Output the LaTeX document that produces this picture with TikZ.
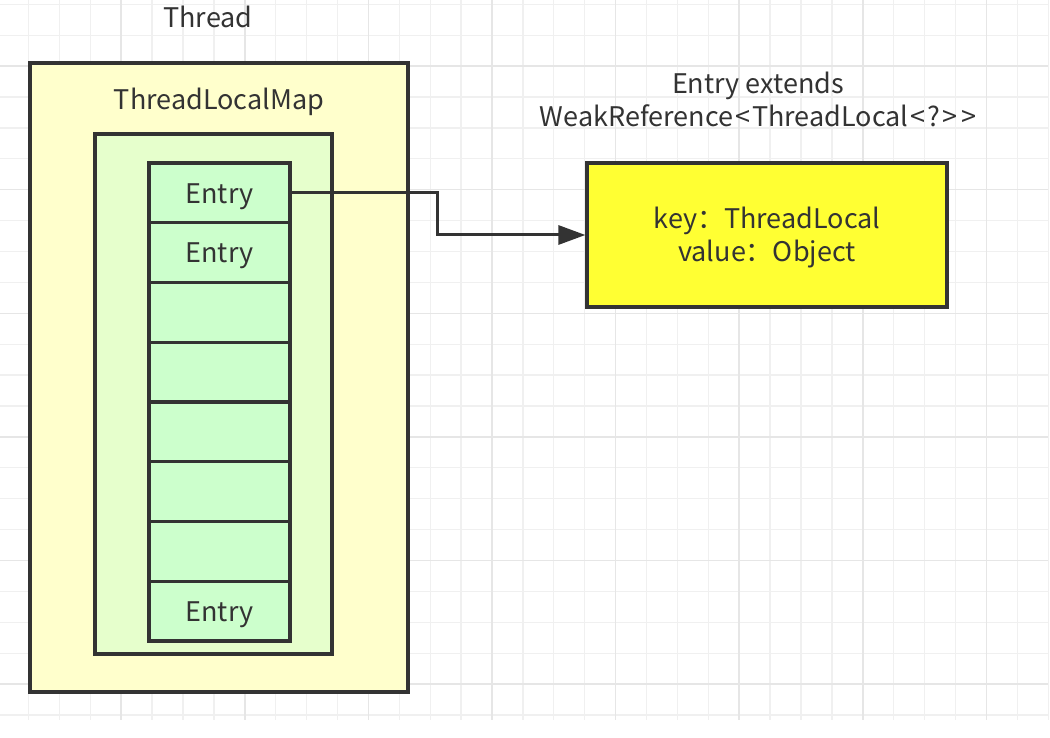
\documentclass[tikz,border=0pt]{standalone}
\usepackage{fontspec}
\setmainfont[Ligatures=NoCommon]{Noto Sans CJK SC}
\usetikzlibrary{arrows.meta}
\definecolor{ink}{HTML}{333333}
\definecolor{gridminor}{HTML}{F0F0F0}
\definecolor{gridmajor}{HTML}{E6E6E6}
\definecolor{threadfill}{HTML}{FFFFCC}
\definecolor{mapfill}{HTML}{E6FFCC}
\definecolor{cellfill}{HTML}{CCFFCC}
\definecolor{kvfill}{HTML}{FFFF33}
\newcommand{\lt}{\hspace{2pt}<\hspace{2pt}}
\newcommand{\gt}{\hspace{2pt}>\hspace{2pt}}
\newcommand{\lowtext}[1]{\raisebox{-3.5pt}[\height][\depth]{#1}}
\tikzset{
  box/.style={draw=ink, line width=3.2pt, rectangle, inner sep=0pt},
  lbl/.style={text=ink, font=\fontsize{27}{33.5}\selectfont, inner sep=0pt, align=center},
  cellbox/.style={box, fill=cellfill, minimum width=141pt, minimum height=59.75pt, text=ink, font=\fontsize{27}{33.5}\selectfont},
  link/.style={draw=ink, line width=3pt, -{Triangle[length=27pt,width=19pt]}}
}
\begin{document}
\begin{tikzpicture}[x=1pt,y=-1pt]
\useasboundingbox[fill=white] (0,0) rectangle (1050,738);
% grid
\foreach \k in {0,...,33} {
  \pgfmathsetmacro\xx{28.5+30.9*\k}
  \draw[gridminor, line width=1.3pt] (\xx,0) -- (\xx,720);
}
\foreach \k in {0,...,23} {
  \pgfmathsetmacro\yy{4.3+30.9*\k}
  \draw[gridminor, line width=1.3pt] (0,\yy) -- (1048,\yy);
}
\foreach \k in {3,7,11,15,19,23,27,31} {
  \pgfmathsetmacro\xx{28.5+30.9*\k}
  \draw[gridmajor, line width=1.5pt] (\xx,0) -- (\xx,720);
}
\foreach \k in {2,6,10,14,18,22} {
  \pgfmathsetmacro\yy{4.3+30.9*\k}
  \draw[gridmajor, line width=1.5pt] (0,\yy) -- (1048,\yy);
}
% boxes
\node[box, fill=threadfill, minimum width=378pt, minimum height=629pt] (thread) at (219,377.5) {};
\node[lbl] (threadlbl) at (208,17) {Thread};
\node[lbl] (maplbl) at (219,101.5) {ThreadLocalMap};
\node[box, fill=mapfill, minimum width=237pt, minimum height=520pt] (map) at (213.5,394) {};
\node[cellbox] (e1) at (219.5,192.9) {\lowtext{Entry}};
\node[cellbox] (e2) at (219.5,252.6) {\lowtext{Entry}};
\node[cellbox] (e3) at (219.5,312.4) {};
\node[cellbox] (e4) at (219.5,372.1) {};
\node[cellbox] (e5) at (219.5,431.9) {};
\node[cellbox] (e6) at (219.5,491.6) {};
\node[cellbox] (e7) at (219.5,551.4) {};
\node[cellbox] (e8) at (219.5,611.1) {\lowtext{Entry}};
% entry object
\node[box, fill=kvfill, minimum width=360pt, minimum height=144pt, text=ink, font=\fontsize{27}{33.5}\selectfont] (kv) at (767,235) {\lowtext{\begin{tabular}{@{}c@{}}key：ThreadLocal\\value：Object\end{tabular}}};
\node[lbl] (extlbl) at (758,99.5) {Entry extends\\WeakReference\lt ThreadLocal\lt ?\gt{}\gt};
% connector
\coordinate (bend) at (437,193);
\draw[link] (e1.east) -- (e1.east -| bend) |- (kv.west);
\end{tikzpicture}
\end{document}
